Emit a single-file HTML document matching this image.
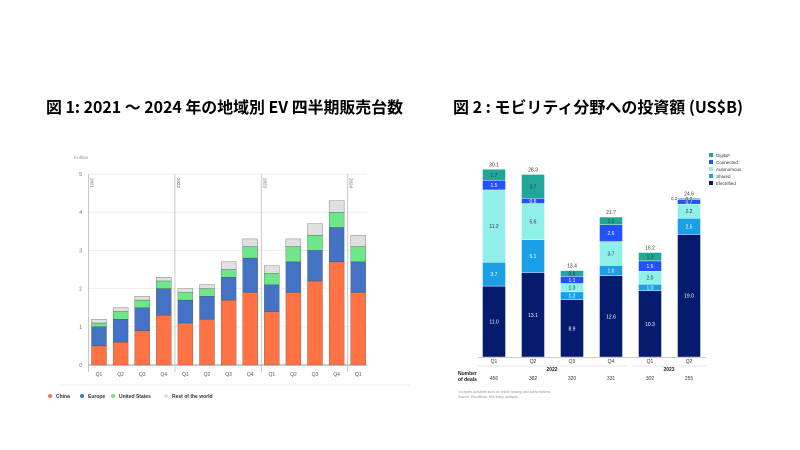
<!DOCTYPE html>
<html><head><meta charset="utf-8"><style>
html,body{margin:0;padding:0;background:#fff;width:800px;height:450px;overflow:hidden}
svg{display:block;font-family:"Liberation Sans","Noto Sans CJK JP",sans-serif}
</style></head><body>
<svg id="s" width="800" height="450" xmlns="http://www.w3.org/2000/svg">
<text x="46" y="113" font-size="16" font-weight="bold" textLength="357" lengthAdjust="spacingAndGlyphs" font-family="'Noto Sans CJK JP',sans-serif">図 1: 2021 ～ 2024 年の地域別 EV 四半期販売台数</text>
<text x="453" y="113" font-size="16" font-weight="bold" textLength="290" lengthAdjust="spacingAndGlyphs" font-family="'Noto Sans CJK JP',sans-serif">図 2 : モビリティ分野への投資額 (US$B)</text>
<g id="left"></g>
<g id="right"></g>
</svg>
<script>
// Left chart data
const quarters = ['Q1','Q2','Q3','Q4','Q1','Q2','Q3','Q4','Q1','Q2','Q3','Q4','Q1'];
const china  = [0.5,0.6,0.9,1.3,1.1,1.2,1.7,1.9,1.4,1.9,2.2,2.7,1.9];
const europe = [0.5,0.6,0.6,0.7,0.6,0.6,0.6,0.9,0.7,0.8,0.8,0.9,0.8];
const usa    = [0.1,0.2,0.2,0.2,0.2,0.2,0.2,0.3,0.3,0.4,0.4,0.4,0.4];
const rest   = [0.1,0.1,0.1,0.1,0.1,0.1,0.2,0.2,0.2,0.2,0.3,0.3,0.3];
const yTicks = [0,1,2,3,4,5];
const years = ['2021','2022','2023','2024'];
const yearStart = [0,4,8,12];
// Right chart data
const rq = ['Q1','Q2','Q3','Q4','Q1','Q2'];
const electrified = [11.0,13.1,8.9,12.6,10.3,19.0];
const shared      = [3.7,5.1,1.2,1.6,1.0,2.5];
const autonomous  = [11.2,5.6,1.3,3.7,2.0,2.2];
const connected   = [1.5,0.8,1.1,2.6,1.6,0.7];
const digital     = [1.7,3.7,0.9,1.2,1.3,0.2];
const totals      = ['30.1','28.3','13.4','21.7','16.2','24.6'];
const deals       = ['456','382','320','331','302','255'];

const NS='http://www.w3.org/2000/svg';
function mk(parent,tag,attrs,text){const e=document.createElementNS(NS,tag);for(const k in attrs)e.setAttribute(k,attrs[k]);if(text!==undefined)e.textContent=text;parent.appendChild(e);return e;}

// ---- left
const L=document.getElementById('left');
const ly=v=>365-v*38.2;
const lx=i=>99+i*21.6;
yTicks.forEach(t=>{
  const g=mk(L,'line',{x1:88,x2:367,y1:ly(t),y2:ly(t),stroke:t===0?'#999':'#eee','stroke-width':1});
  
  
  const tx=mk(L,'text',{x:82,y:ly(t)+2,'font-size':5,fill:'#666','text-anchor':'end'},t);
  
  
});
const unit=mk(L,'text',{x:74,y:159,'font-size':4.5,fill:'#888'},'m illion');


years.forEach((y,k)=>{
  const x=lx(yearStart[k])-10.5;
  const ln=mk(L,'line',{x1:x,x2:x,y1:174,y2:372,stroke:'#bbb','stroke-width':0.8});
  
  
  const t=mk(L,'text',{x:x+2,y:178,'font-size':4.5,fill:'#666',transform:`rotate(90 ${x+2} 178)`},y);
  
  
});
const lser=[[china,'#ff7345','china'],[europe,'#4472c4','europe'],[usa,'#6ee68a','united-states'],[rest,'#e0e0e0','rest-of-world']];
quarters.forEach((q,i)=>{
  let base=0;
  lser.forEach(([arr,c,n])=>{
    const r=mk(L,'rect',{x:lx(i)-7.5,y:ly(base+arr[i]),width:15,height:arr[i]*38.2,fill:c,stroke:'#444','stroke-width':0.3});
    
    
    base+=arr[i];
  });
  const t=mk(L,'text',{x:lx(i),y:376,'font-size':5,fill:'#555','text-anchor':'middle'},q);
  
  
});
const bl=mk(L,'line',{x1:60,x2:410,y1:385,y2:385,stroke:'#eee'});


[['China','#ff7345',50],['Europe','#4472c4',82],['United States','#6ee68a',113],['Rest of the world','#e0e0e0',166]].forEach(([n,c,x])=>{
  const g=mk(L,'g',{});
  
  
  mk(g,'circle',{cx:x,cy:396,r:2,fill:c});
  mk(g,'text',{x:x+6,y:398,'font-size':5,fill:'#333','font-weight':'bold'},n);
});

// ---- right
const R=document.getElementById('right');
const RS=6.45;
const ry=v=>357-v*RS;
const rx=i=>494+i*39;
const rser=[[electrified,'#051c6e','electrified','#fff'],[shared,'#1ba0e8','shared','#fff'],[autonomous,'#8ef0e8','autonomous','#333'],[connected,'#2251ff','connected','#fff'],[digital,'#1fa89a','digital','#333']];
rq.forEach((q,i)=>{
  let base=0;
  rser.forEach(([arr,c,n,tc])=>{
    const v=arr[i];
    const r=mk(R,'rect',{x:rx(i)-11.5,y:ry(base+v),width:23,height:v*RS,fill:c,stroke:'#fff','stroke-width':0.4});
    
    
    const t=mk(R,'text',{x:rx(i),y:ry(base+v/2)+2,'font-size':5,fill:tc,'text-anchor':'middle'},v.toFixed(1));
    
    
    base+=v;
  });
  const tt=mk(R,'text',{x:rx(i),y:ry(base)-3,'font-size':5,fill:'#333','text-anchor':'middle'},totals[i]);
  
  
  const ql=mk(R,'text',{x:rx(i),y:363,'font-size':5,fill:'#333','text-anchor':'middle'},q);
  
  
  const dl=mk(R,'text',{x:rx(i),y:380,'font-size':5,fill:'#333','text-anchor':'middle'},deals[i]);
  
  
});
const ax=mk(R,'line',{x1:478,x2:706,y1:357.5,y2:357.5,stroke:'#999','stroke-width':0.6});


[[478,627,2022,552],[632,706,2023,669]].forEach(([a,b,y,cx])=>{
  const l=mk(R,'line',{x1:a,x2:b,y1:366,y2:366,stroke:'#ccc','stroke-width':0.6});
  
  
  const t=mk(R,'text',{x:cx,y:371,'font-size':5,'font-weight':'bold',fill:'#222','text-anchor':'middle'},y);
  
  
});
const nd=mk(R,'text',{x:458,y:375,'font-size':5,'font-weight':'bold',fill:'#222'},'Number');


mk(R,'text',{x:458,y:381,'font-size':5,'font-weight':'bold',fill:'#222'},'of deals');
const sm=mk(R,'text',{x:671,y:200,'font-size':4.5,fill:'#333'},'0.2');


const f1=mk(R,'text',{x:458,y:393,'font-size':3.5,fill:'#999'},'¹Includes activities such as online leasing and subscriptions.');


mk(R,'text',{x:458,y:398,'font-size':3.5,fill:'#999'},'Source: PitchBook; McKinsey analysis');
[['Digital¹','#1fa89a'],['Connected','#2251ff'],['Autonomous','#8ef0e8'],['Shared','#1ba0e8'],['Electrified','#051c6e']].forEach(([n,c],k)=>{
  const g=mk(R,'g',{});
  
  
  mk(g,'rect',{x:709,y:153+k*7,width:4,height:4,fill:c});
  mk(g,'text',{x:716,y:157+k*7,'font-size':4.5,fill:'#333'},n);
});
</script>
</body></html>
